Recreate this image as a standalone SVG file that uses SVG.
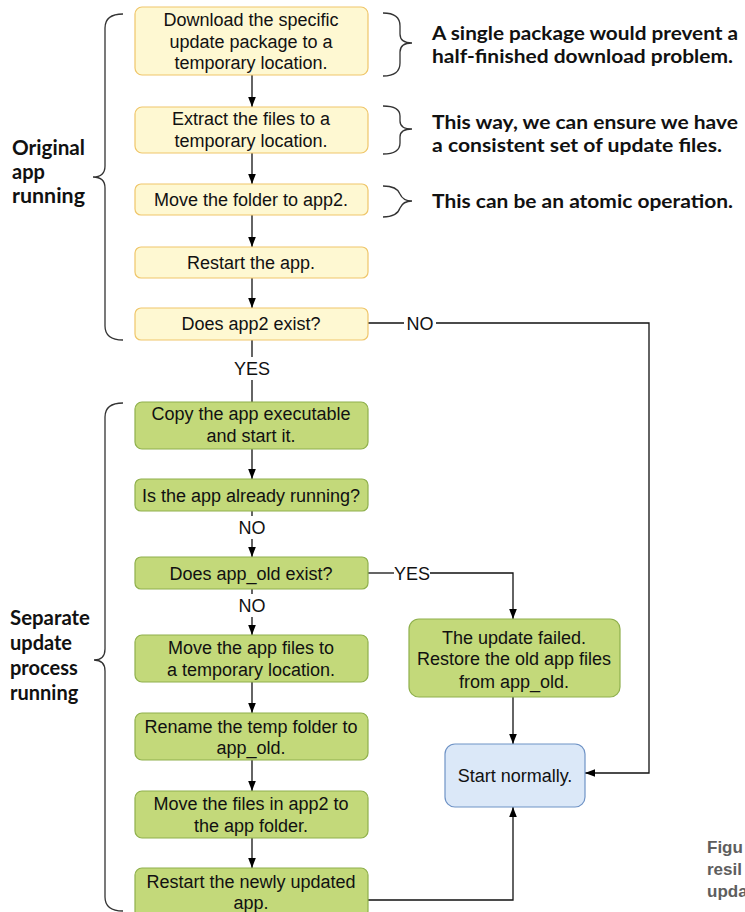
<svg xmlns="http://www.w3.org/2000/svg" width="745" height="912" viewBox="0 0 745 912">
  <defs>
    <marker id="arrow" viewBox="0 0 10 10" refX="10" refY="5" markerWidth="10" markerHeight="10" markerUnits="userSpaceOnUse" orient="auto">
      <path d="M0,1.2 L10,5 L0,8.8 Z" fill="#000"/>
    </marker>
  </defs>
  <style>
    .yellow { fill: #fef8d2; stroke: #efc66a; stroke-width: 1.2; }
    .green { fill: #c3d97a; stroke: #8fb04c; stroke-width: 1.2; }
    .blue { fill: #dbe8f8; stroke: #6f93c6; stroke-width: 1.2; }
    .lbl { font-family: "Liberation Sans", Arial, sans-serif; font-size: 18px; fill: #111; text-anchor: middle; }
    .edge { fill: none; stroke: #111; stroke-width: 1.3; }
    .brace { fill: none; stroke: #333; stroke-width: 1.3; }
    .note { font-family: Lato, "Open Sans", sans-serif; font-weight: bold; font-size: 18.5px; fill: #111; }
    .side { font-family: Lato, "Open Sans", sans-serif; font-weight: bold; font-size: 20px; fill: #111; }
    .cap { font-family: "Liberation Sans", Arial, sans-serif; font-weight: bold; font-size: 17px; fill: #5e5e5e; }
  </style>

  <!-- braces -->
  <g id="braces">
    <path class="brace" d="M123,14 Q105,14 105,28 L105,166 Q105,177 93,177 Q105,177 105,188 L105,326 Q105,340 123,340"/>
    <path class="brace" d="M123,403 Q105,403 105,417 L105,649 Q105,660 94,660 Q105,660 105,671 L105,897 Q105,911 123,911"/>
    <path class="brace" d="M383,13 Q400,13 400,26 L400,34 Q400,43 412,43 Q400,43 400,52 L400,63 Q400,76 383,76"/>
    <path class="brace" d="M383,106 Q400,106 400,116 L400,121 Q400,129 412,129 Q400,129 400,137 L400,143 Q400,154 383,154"/>
    <path class="brace" d="M383,186 Q397,186 400,194 Q403,201 412,201 Q403,201 400,208 Q397,217 383,217"/>
  </g>

  <!-- side labels -->
  <g id="side-labels">
    <text class="side" x="12" y="155" textLength="73" lengthAdjust="spacingAndGlyphs">Original</text>
    <text class="side" x="12" y="179">app</text>
    <text class="side" x="12" y="203" textLength="73" lengthAdjust="spacingAndGlyphs">running</text>
    <text class="side" x="10" y="625" textLength="80" lengthAdjust="spacingAndGlyphs">Separate</text>
    <text class="side" x="10" y="650">update</text>
    <text class="side" x="10" y="675">process</text>
    <text class="side" x="10" y="700">running</text>
  </g>

  <!-- notes -->
  <g id="notes">
    <text class="note" x="432" y="40" textLength="306" lengthAdjust="spacingAndGlyphs">A single package would prevent a</text>
    <text class="note" x="432" y="63" textLength="301" lengthAdjust="spacingAndGlyphs">half-finished download problem.</text>
    <text class="note" x="432" y="129" textLength="306" lengthAdjust="spacingAndGlyphs">This way, we can ensure we have</text>
    <text class="note" x="432" y="152" textLength="290" lengthAdjust="spacingAndGlyphs">a consistent set of update files.</text>
    <text class="note" x="432" y="208" textLength="301" lengthAdjust="spacingAndGlyphs">This can be an atomic operation.</text>
  </g>

  <!-- connectors -->
  <g id="connectors">
    <path class="edge" d="M252,75 V107" marker-end="url(#arrow)"/>
    <path class="edge" d="M252,153 V184" marker-end="url(#arrow)"/>
    <path class="edge" d="M252,215 V247" marker-end="url(#arrow)"/>
    <path class="edge" d="M252,278 V308" marker-end="url(#arrow)"/>
    <path class="edge" d="M252,340 V357"/>
    <path class="edge" d="M252,380 V402"/>
    <text class="lbl" x="252" y="375">YES</text>
    <path class="edge" d="M368,323 H404"/>
    <path class="edge" d="M436,323 H649 V773 H585" marker-end="url(#arrow)"/>
    <text class="lbl" x="420" y="330">NO</text>
    <path class="edge" d="M252,449 V479" marker-end="url(#arrow)"/>
    <path class="edge" d="M252,511 V516"/>
    <path class="edge" d="M252,539 V557" marker-end="url(#arrow)"/>
    <text class="lbl" x="252" y="534">NO</text>
    <path class="edge" d="M252,589 V594"/>
    <path class="edge" d="M252,617 V635" marker-end="url(#arrow)"/>
    <text class="lbl" x="252" y="612">NO</text>
    <path class="edge" d="M368,573 H394"/>
    <path class="edge" d="M430,573 H513 V619" marker-end="url(#arrow)"/>
    <text class="lbl" x="412" y="580">YES</text>
    <path class="edge" d="M252,682 V713" marker-end="url(#arrow)"/>
    <path class="edge" d="M252,760 V791" marker-end="url(#arrow)"/>
    <path class="edge" d="M252,838 V868" marker-end="url(#arrow)"/>
    <path class="edge" d="M513,697 V744" marker-end="url(#arrow)"/>
    <path class="edge" d="M368,900 H513 V807" marker-end="url(#arrow)"/>
  </g>

  <!-- original app steps -->
  <g id="download">
    <rect class="yellow" x="135" y="7" width="233" height="68" rx="7"/>
    <text class="lbl" x="251" y="26">Download the specific</text>
    <text class="lbl" x="251" y="48">update package to a</text>
    <text class="lbl" x="251" y="69">temporary location.</text>
  </g>
  <g id="extract">
    <rect class="yellow" x="135" y="107" width="233" height="46" rx="7"/>
    <text class="lbl" x="251" y="125">Extract the files to a</text>
    <text class="lbl" x="251" y="147">temporary location.</text>
  </g>
  <g id="move-folder">
    <rect class="yellow" x="135" y="184" width="233" height="31" rx="6"/>
    <text class="lbl" x="251" y="206">Move the folder to app2.</text>
  </g>
  <g id="restart">
    <rect class="yellow" x="135" y="247" width="233" height="31" rx="6"/>
    <text class="lbl" x="251" y="269">Restart the app.</text>
  </g>
  <g id="app2-exists">
    <rect class="yellow" x="135" y="308" width="233" height="32" rx="6"/>
    <text class="lbl" x="251" y="330">Does app2 exist?</text>
  </g>

  <!-- update process steps -->
  <g id="copy-exe">
    <rect class="green" x="135" y="402" width="233" height="47" rx="7"/>
    <text class="lbl" x="251" y="420">Copy the app executable</text>
    <text class="lbl" x="251" y="442">and start it.</text>
  </g>
  <g id="already-running">
    <rect class="green" x="135" y="479" width="233" height="32" rx="6"/>
    <text class="lbl" x="251" y="502">Is the app already running?</text>
  </g>
  <g id="app-old-exists">
    <rect class="green" x="135" y="557" width="233" height="32" rx="6"/>
    <text class="lbl" x="251" y="580">Does app_old exist?</text>
  </g>
  <g id="move-app-files">
    <rect class="green" x="135" y="635" width="233" height="47" rx="7"/>
    <text class="lbl" x="251" y="654">Move the app files to</text>
    <text class="lbl" x="251" y="676">a temporary location.</text>
  </g>
  <g id="rename-temp">
    <rect class="green" x="135" y="713" width="233" height="47" rx="7"/>
    <text class="lbl" x="251" y="733">Rename the temp folder to</text>
    <text class="lbl" x="251" y="754">app_old.</text>
  </g>
  <g id="move-app2">
    <rect class="green" x="135" y="791" width="233" height="47" rx="7"/>
    <text class="lbl" x="251" y="810">Move the files in app2 to</text>
    <text class="lbl" x="251" y="832">the app folder.</text>
  </g>
  <g id="restart-updated">
    <rect class="green" x="135" y="868" width="233" height="50" rx="7"/>
    <text class="lbl" x="251" y="888">Restart the newly updated</text>
    <text class="lbl" x="251" y="909">app.</text>
  </g>
  <g id="update-failed">
    <rect class="green" x="409" y="619" width="211" height="78" rx="10"/>
    <text class="lbl" x="514" y="644">The update failed.</text>
    <text class="lbl" x="514" y="665">Restore the old app files</text>
    <text class="lbl" x="514" y="688">from app_old.</text>
  </g>
  <g id="start-normally">
    <rect class="blue" x="445" y="744" width="140" height="63" rx="10"/>
    <text class="lbl" x="515" y="782">Start normally.</text>
  </g>

  <!-- caption edge -->
  <g id="caption">
    <text class="cap" x="707" y="853">Figu</text>
    <text class="cap" x="707" y="875">resil</text>
    <text class="cap" x="707" y="897">upda</text>
  </g>
</svg>
